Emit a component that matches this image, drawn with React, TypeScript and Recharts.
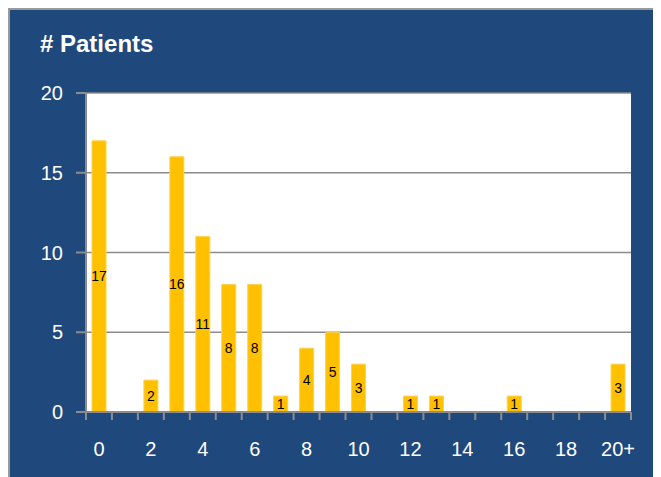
import { BarChart, Bar, XAxis, YAxis, CartesianGrid, LabelList } from 'recharts';

const categories = ['0', '1', '2', '3', '4', '5', '6', '7', '8', '9', '10', '11', '12', '13', '14', '15', '16', '17', '18', '19', '20+'];
const patients = [17, 0, 2, 16, 11, 8, 8, 1, 4, 5, 3, 0, 1, 1, 0, 0, 1, 0, 0, 0, 3];
const yTicks = [0, 5, 10, 15, 20];

const data = categories.map((name, i) => ({ name, value: patients[i] }));

const W = 651;
const H = 467;
const X_H = 30;
const M = { top: 83, right: 30, bottom: 65 - X_H, left: 0 };
const Y_W = 76;
const band = (W - M.left - M.right - Y_W) / categories.length;

const FONT = '"Liberation Sans", Arial, Helvetica, sans-serif';
const AXIS = '#8c8c8c';

const XTick = (props: any) => {
    const { x, y, payload, index } = props;
    const isLast = index === categories.length - 1;
    return (
        <g>
            <line x1={x - band / 2} x2={x - band / 2} y1={y} y2={y + 8} stroke={AXIS} strokeWidth={2} />
            {isLast && <line x1={x + band / 2} x2={x + band / 2} y1={y} y2={y + 8} stroke={AXIS} strokeWidth={2} />}
            {index % 2 === 0 && (
                <text x={x} y={y + 44} textAnchor="middle" fill="#fff" fontSize={20} fontFamily={FONT}>
                    {payload.value}
                </text>
            )}
        </g>
    );
};

export default function App() {
    return (
        <div
            style={{
                position: 'relative',
                boxSizing: 'border-box',
                width: 653,
                height: 469,
                background: '#1F497D',
                borderTop: '2px solid #999',
                borderLeft: '2px solid #999',
                overflow: 'hidden',
                fontFamily: FONT,
            }}
        >
            <div
                style={{
                    position: 'absolute',
                    left: 30,
                    top: 22,
                    color: '#fff',
                    fontSize: 24,
                    fontWeight: 'bold',
                    lineHeight: '24px',
                    whiteSpace: 'nowrap',
                }}
            >
                # Patients
            </div>
            <BarChart width={W} height={H} data={data} margin={M} barSize={14}>
                <CartesianGrid vertical={false} fill="#fff" stroke={AXIS} strokeWidth={1.5} />
                <XAxis
                    dataKey="name"
                    height={X_H}
                    interval={0}
                    tickLine={false}
                    tickSize={0}
                    tickMargin={0}
                    axisLine={{ stroke: AXIS, strokeWidth: 2 }}
                    tick={<XTick />}
                />
                <YAxis
                    width={Y_W}
                    domain={[0, 20]}
                    ticks={yTicks}
                    interval={0}
                    tickSize={10}
                    tickMargin={13}
                    axisLine={{ stroke: AXIS, strokeWidth: 2 }}
                    tickLine={{ stroke: AXIS, strokeWidth: 2 }}
                    tick={{ fill: '#fff', fontSize: 20, fontFamily: FONT }}
                />
                <Bar dataKey="value" fill="#FFC000" stroke="#FFD34D" strokeWidth={1} isAnimationActive={false}>
                    <LabelList
                        dataKey="value"
                        position="center"
                        fill="#000"
                        fontSize={14}
                        fontFamily={FONT}
                        formatter={(v: any) => (v ? v : '')}
                    />
                </Bar>
            </BarChart>
        </div>
    );
}
